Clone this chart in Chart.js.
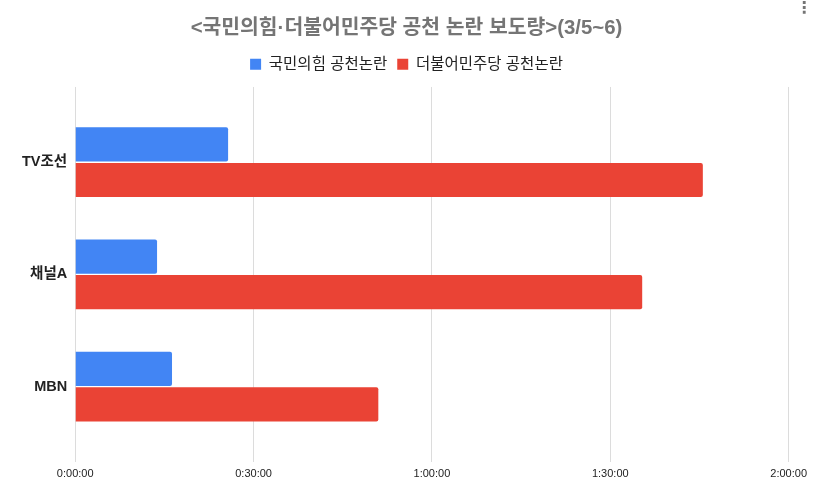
<!DOCTYPE html>
<html lang="ko">
<head>
<meta charset="utf-8">
<script src="https://cdn.jsdelivr.net/npm/chart.js@4"></script>
<style>
  body { margin: 0; background: #fff; }
  #wrap { position: relative; width: 813px; height: 495px; }
  #menu { position: absolute; left: 796px; top: -2px; font: bold 16px "DejaVu Sans", sans-serif; color: #757575; }
</style>
</head>
<body>
<div id="wrap">
  <canvas id="chart"></canvas>
  <div id="menu">⋮</div>
</div>
<script>
// 방송사별 공천 논란 보도 시간 (초)
const channels = ['TV조선', '채널A', 'MBN'];
const ppp = [1543, 826, 977];          // 국민의힘 공천논란
const dem = [6334, 5722, 3059];        // 더불어민주당 공천논란
const seriesNames = ['국민의힘 공천논란', '더불어민주당 공천논란'];
const xTicks = [0, 1800, 3600, 5400, 7200];

const FONT = '"Liberation Sans", Arial, "Noto Sans CJK KR", sans-serif';

// 초 -> h:mm:ss
function fmtTime(sec) {
  const h = Math.floor(sec / 3600);
  const m = Math.floor((sec % 3600) / 60);
  const s = sec % 60;
  return h + ':' + String(m).padStart(2, '0') + ':' + String(s).padStart(2, '0');
}

const toPoints = arr => arr.map((v, i) => ({ x: v, y: i }));

// 범례 아래 여백 조금 더
const legendGap = {
  id: 'legendGap',
  beforeInit(chart) {
    const fit = chart.legend.fit;
    chart.legend.fit = function () {
      fit.call(this);
      this.height += 5;
    };
  }
};

new Chart(document.getElementById('chart'), {
  type: 'bar',
  data: {
    datasets: [
      {
        label: seriesNames[0],
        data: toPoints(ppp),
        backgroundColor: '#4285F4',
        borderRadius: 2,
        borderSkipped: 'start',
        categoryPercentage: 0.635,
        barPercentage: 0.96
      },
      {
        label: seriesNames[1],
        data: toPoints(dem),
        backgroundColor: '#EA4335',
        borderRadius: 2,
        borderSkipped: 'start',
        categoryPercentage: 0.635,
        barPercentage: 0.96
      }
    ]
  },
  options: {
    indexAxis: 'y',
    responsive: true,
    maintainAspectRatio: false,
    animation: false,
    layout: { padding: { left: 0, right: 0, top: 12, bottom: 8 } },
    scales: {
      x: {
        type: 'linear',
        min: 0,
        max: 7200,
        afterBuildTicks: scale => { scale.ticks = xTicks.map(v => ({ value: v })); },
        ticks: {
          callback: v => fmtTime(v),
          color: '#222',
          font: { family: FONT, size: 11 },
          padding: 6,
          maxRotation: 0
        },
        grid: { color: '#dcdcdc', drawTicks: false },
        border: { display: false }
      },
      y: {
        type: 'linear',
        reverse: true,
        offset: false,
        min: -0.67,
        max: 2.67,
        // 정수 위치에만 눈금 (채널명)
        afterBuildTicks: scale => { scale.ticks = channels.map((c, i) => ({ value: i })); },
        afterFit: scale => { scale.width += 22; },
        ticks: {
          callback: v => channels[v],
          color: '#222',
          font: { family: FONT, size: 14.5, weight: 'bold' },
          padding: 0
        },
        grid: { display: false, offset: false },
        border: { display: false }
      }
    },
    plugins: {
      title: {
        display: true,
        text: '<국민의힘·더불어민주당 공천 논란 보도량>(3/5~6)',
        color: '#757575',
        font: { family: FONT, size: 20.4, weight: 'bold' },
        padding: { top: 4, bottom: 6 }
      },
      legend: {
        position: 'top',
        labels: {
          color: '#222',
          font: { family: FONT, size: 15.5 },
          boxWidth: 11,
          boxHeight: 11,
          padding: 10
        }
      },
      tooltip: {
        callbacks: {
          label: ctx => ctx.dataset.label + ': ' + fmtTime(ctx.parsed.x)
        }
      }
    }
  },
  plugins: [legendGap]
});
</script>
</body>
</html>
